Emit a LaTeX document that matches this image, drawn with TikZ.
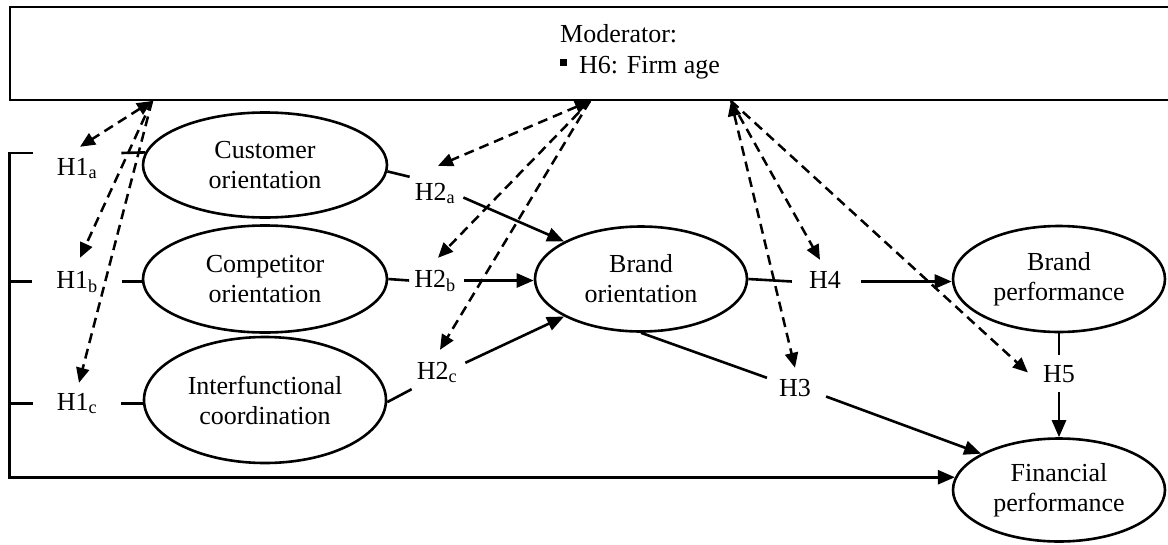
\documentclass[tikz,border=0pt]{standalone}
\usepackage{fontspec}
\setmainfont{Liberation Serif}
\usetikzlibrary{arrows.meta,calc,shapes.geometric}
\begin{document}
\begin{tikzpicture}[x=1pt,y=-1pt,
  every node/.style={font=\fontsize{26pt}{30pt}\selectfont},
  lat/.style={draw, ellipse, line width=2.6pt, inner sep=0pt, align=center},
  hyp/.style={inner sep=0pt, anchor=base, text height=18pt, text depth=5pt},
  conn/.style={line width=2.6pt},
  arr/.style={conn, -{Triangle[length=17pt,width=14pt]}},
  modarr/.style={line width=2.5pt, dash pattern=on 10pt off 6pt, -{Triangle[length=15pt,width=13pt]}},
  modboth/.style={modarr, {Triangle[length=15pt,width=13pt]}-{Triangle[length=15pt,width=13pt]}}
]
\useasboundingbox (0,0) rectangle (1168,544);

% moderator box
\draw[conn] (1168,7) -- (10,7) -- (10,100) -- (1168,100);
\node[anchor=base west, inner sep=0pt] (modt) at (560,42) {Moderator:};
\node[anchor=base west, inner sep=0pt] (modi) at (560,73) {\rule[7pt]{7pt}{7pt}\hspace{12pt}H6: Firm age};
\coordinate (mL) at (152,101);
\coordinate (mC) at (590,101);
\coordinate (mR) at (731,101);

% constructs
\node[lat, minimum width=244pt, minimum height=105pt] (cust) at (265,165) {Customer\\orientation};
\node[lat, minimum width=244pt, minimum height=107pt] (comp) at (265,279) {Competitor\\orientation};
\node[lat, minimum width=242pt, minimum height=126pt] (inter) at (265,400) {Interfunctional\\coordination};
\node[lat, minimum width=212pt, minimum height=105pt] (bo) at (641,279) {Brand\\orientation};
\node[lat, minimum width=212pt, minimum height=106pt] (bp) at (1059,279) {Brand\\performance};
\node[lat, minimum width=212pt, minimum height=103pt] (fp) at (1059,490) {Financial\\performance};

% hypothesis labels
\node[hyp] (h1a) at (77,175) {H1\textsubscript{a}};
\node[hyp] (h1b) at (77,288) {H1\textsubscript{b}};
\node[hyp] (h1c) at (77,410) {H1\textsubscript{c}};
\node[hyp] (h2a) at (435,200) {H2\textsubscript{a}};
\node[hyp] (h2b) at (435,287) {H2\textsubscript{b}};
\node[hyp] (h2c) at (437,379) {H2\textsubscript{c}};
\node[hyp] (h3) at (795,396) {H3};
\node[hyp] (h4) at (825,288) {H4};
\node[hyp] (h5) at (1059,382) {H5};

% bracket to financial performance
\draw[arr] ([xshift=-24pt,yshift=15.5pt]h1a.west) -- ++(-23,0) coordinate (brtop) -- (brtop |- fp.173.5) -- (fp.173.5);
\draw[conn] ([xshift=-24pt]h1b.west) -- (h1b.west -| brtop);
\draw[conn] ([xshift=-24pt]h1c.west) -- (h1c.west -| brtop);
\draw[conn] ([xshift=24pt,yshift=15.5pt]h1a.east) -- (cust.174);
\draw[conn] ([xshift=24pt]h1b.east) -- (h1b.east -| comp.west);
\draw[conn] ([xshift=24pt]h1c.east) -- (h1c.east -| inter.west);

% H2
\draw[conn] (cust.-3) -- ([xshift=-5pt,yshift=5pt]h2a.north west);
\draw[arr] ([xshift=8pt,yshift=-4pt]h2a.east) -- (bo.154);
\draw[conn] (comp.east) -- ([xshift=-5pt]h2b.west);
\draw[arr] ([xshift=8pt]h2b.east) -- (h2b.east -| bo.west);
\draw[conn] (inter.-1) -- ([xshift=-5pt,yshift=-5pt]h2c.south west);
\draw[arr] ([xshift=8pt,yshift=-2pt]h2c.north east) -- (bo.206);

% H3
\draw[conn] (bo.south) -- ([xshift=-12pt]h3.north west);
\draw[arr] ([xshift=15pt,yshift=-7pt]h3.east) -- (fp.155);
% H4
\draw[conn] (bo.east) -- ([xshift=-17pt]h4.west);
\draw[arr] ([xshift=20pt]h4.east) -- (h4.east -| bp.west);
% H5
\draw[conn] (bp.south) -- ([yshift=9pt]h5.north);
\draw[arr] ([yshift=-5pt]h5.south) -- (fp.north);

% moderator effects
\draw[modboth] (mL) -- ([xshift=3pt,yshift=10pt]h1a.north);
\draw[modarr] (mL) -- ([xshift=3pt,yshift=12pt]h1b.north);
\draw[modarr] (mL) -- ([xshift=2pt,yshift=9pt]h1c.north);
\draw[modboth] (mC) -- ([xshift=3pt,yshift=16pt]h2a.north);
\draw[modarr] (mC) -- ([xshift=3pt,yshift=11pt]h2b.north);
\draw[modarr] (mC) -- ([xshift=3pt,yshift=11pt]h2c.north);
\draw[modboth] (mR) -- ([yshift=10pt]h3.north);
\draw[modarr] (mR) -- ([xshift=-5pt,yshift=10pt]h4.north);
\draw[modarr] (mR) -- ([xshift=-15pt,yshift=3pt]h5.west);
\end{tikzpicture}
\end{document}
